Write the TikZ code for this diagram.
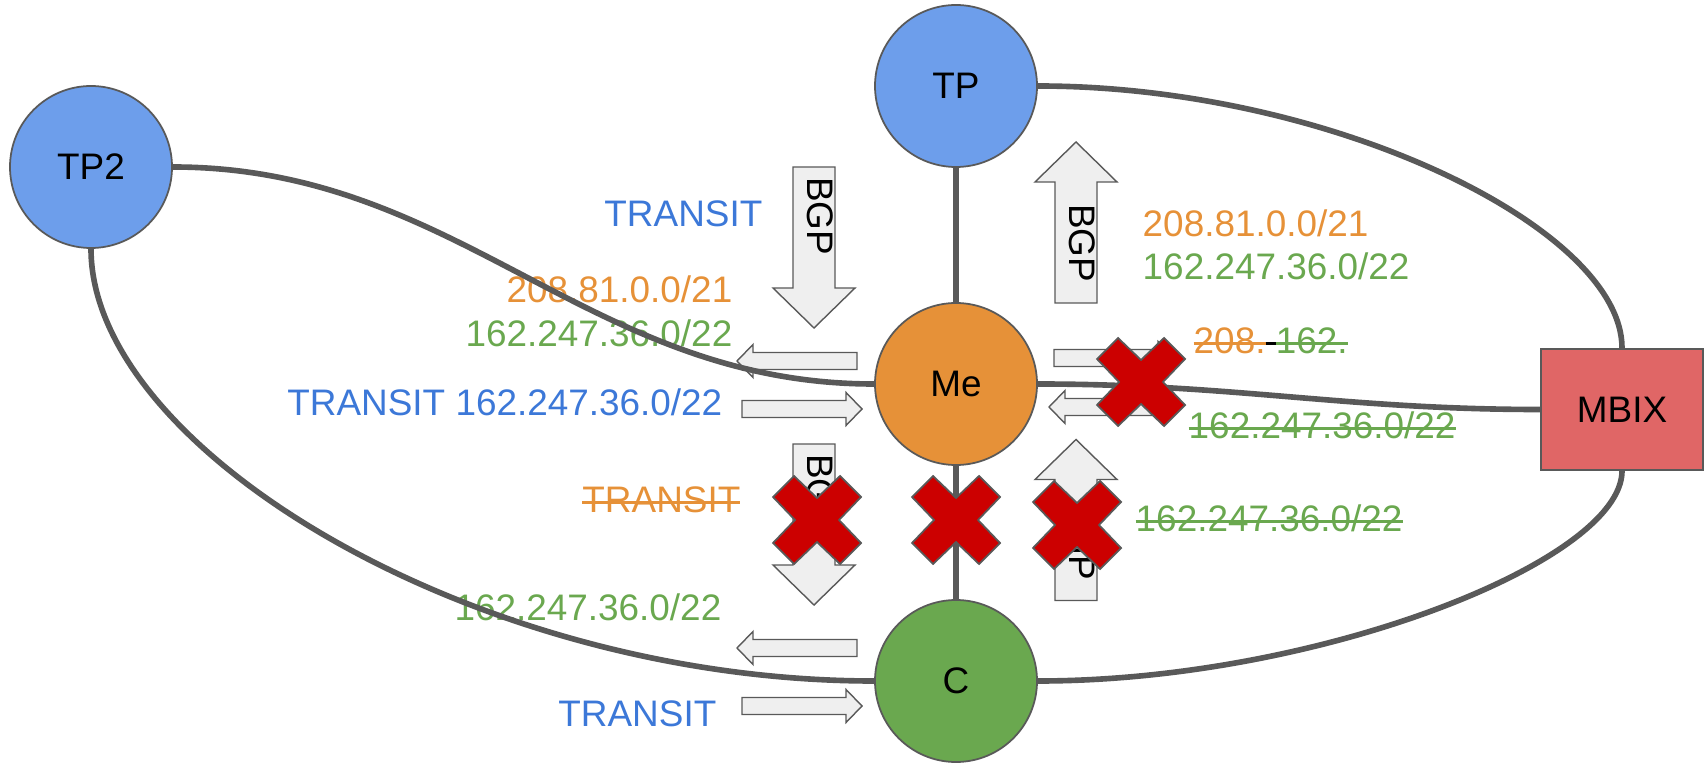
\documentclass[tikz,border=0pt]{standalone}
\usepackage{fontspec}
\setmainfont{Liberation Sans}
\definecolor{tpblue}{HTML}{6D9EEB}
\definecolor{meorange}{HTML}{E69138}
\definecolor{cgreen}{HTML}{6AA84F}
\definecolor{mbixred}{HTML}{E06666}
\definecolor{txtblue}{HTML}{3C78D8}
\definecolor{xred}{HTML}{CC0000}
\definecolor{edgegray}{HTML}{595959}
\definecolor{arrowfill}{HTML}{EFEFEF}
\newcommand\diagfont{\fontsize{10.5}{12}\selectfont}
\newlength\strkwd
\newcommand\strk[1]{\settowidth\strkwd{#1}\rlap{\rule[0.24em]{\strkwd}{0.85pt}}#1}
\tikzset{
  relay/.style={circle, draw=edgegray, line width=0.5pt, minimum size=1.62cm, inner sep=0pt, font=\diagfont},
  link/.style={draw=edgegray, line width=1.6pt},
  ann/.style={inner sep=0pt, font=\diagfont},
  blockarrow/.style={fill=arrowfill, draw=edgegray, line width=0.4pt},
  xmark/.style={fill=xred, draw=edgegray, line width=0.5pt},
  hpush/.pic={
    \path[blockarrow] (-0.60,-0.085) -- (0.44,-0.085) -- (0.44,-0.165) -- (0.60,0)
      -- (0.44,0.165) -- (0.44,0.085) -- (-0.60,0.085) -- cycle;
  },
  vpush/.pic={
    \path[blockarrow] (-0.21,0.805) -- (0.21,0.805) -- (0.21,-0.405) -- (0.41,-0.405)
      -- (0,-0.805) -- (-0.41,-0.405) -- (-0.21,-0.405) -- cycle;
  },
  nope/.pic={
    \path[xmark] (0,0.22) -- (0.23,0.44) -- (0.44,0.23) -- (0.22,0) -- (0.44,-0.23)
      -- (0.23,-0.44) -- (0,-0.22) -- (-0.23,-0.44) -- (-0.44,-0.23) -- (-0.22,0)
      -- (-0.44,0.23) -- (-0.23,0.44) -- cycle;
  },
}
\begin{document}
\begin{tikzpicture}
    \useasboundingbox (0,0) rectangle (17.04,7.62);
    % announcement arrows
    \pic[rotate=180] at (7.97,4.01) {hpush};
    \pic at (8.02,3.53) {hpush};
    \pic at (11.14,4.04) {hpush};
    \pic[rotate=180] at (11.09,3.55) {hpush};
    \pic[rotate=180] at (7.97,1.14) {hpush};
    \pic at (8.02,0.56) {hpush};
    \pic at (8.14,5.145) {vpush};
    \pic[rotate=180] at (10.76,5.395) {vpush};
    \pic at (8.14,2.375) {vpush};
    \pic[rotate=180] at (10.76,2.42) {vpush};
    \node[ann, rotate=-90] (bgptp) at (8.20,5.46) {BGP};
    \node[ann, rotate=-90] (bgpup) at (10.82,5.19) {BGP};
    \node[ann, rotate=-90] (bgpc) at (8.20,2.69) {BGP};
    \node[ann, rotate=-90] (bgpcup) at (10.82,2.21) {BGP};
    % prefixes
    \node[ann, anchor=base east, text=txtblue] (transitin) at (7.63,5.35) {TRANSIT};
    \node[ann, anchor=base east, text=meorange] (ownout) at (7.33,4.59) {208.81.0.0/21};
    \node[ann, anchor=base east, text=cgreen] (custout) at (7.33,4.15) {162.247.36.0/22};
    \node[ann, anchor=base east, text=txtblue] (tp2in) at (7.23,3.46) {TRANSIT 162.247.36.0/22};
    \node[ann, anchor=base west, text=meorange] (ownup) at (11.42,5.25) {208.81.0.0/21};
    \node[ann, anchor=base west, text=cgreen] (custup) at (11.42,4.82) {162.247.36.0/22};
    \node[ann, anchor=base west] (ixout) at (11.93,4.08)
        {{\color{meorange}\strk{208.}}\strk{\ }{\color{cgreen}\strk{162.}}};
    \node[ann, anchor=base west, text=cgreen] (ixin) at (11.88,3.23) {\strk{162.247.36.0/22}};
    \node[ann, anchor=base west, text=cgreen] (cup) at (11.35,2.30) {\strk{162.247.36.0/22}};
    \node[ann, anchor=base east, text=meorange] (cdown) at (7.41,2.49) {\strk{TRANSIT}};
    \node[ann, anchor=base east, text=cgreen] (cout) at (7.22,1.42) {162.247.36.0/22};
    \node[ann, anchor=base east, text=txtblue] (cin) at (7.17,0.36) {TRANSIT};
    % routers
    \node[relay, fill=tpblue] (tp2) at (0.91,5.95) {TP2};
    \node[relay, fill=tpblue] (tp) at (9.56,6.76) {TP};
    \node[relay, fill=meorange] (me) at (9.56,3.78) {Me};
    \node[relay, fill=cgreen] (c) at (9.56,0.81) {C};
    \node[draw=edgegray, line width=0.5pt, fill=mbixred, minimum width=1.62cm, minimum height=1.21cm,
        inner sep=0pt, font=\diagfont] (mbix) at (16.22,3.525) {MBIX};
    % links
    \draw[link] (tp) -- (me);
    \draw[link] (me) -- (c);
    \draw[link] (tp2.east) to[out=0,in=180] (me.west);
    \draw[link] (tp2.south) .. controls +(0,-2.0) and +(-4.0,0) .. (c.west);
    \draw[link] (tp.east) .. controls +(2.93,0) and +(0,1.2) .. (mbix.north);
    \draw[link] (me.east) to[out=0,in=180] (mbix.west);
    \draw[link] (c.east) .. controls +(2.8,0) and +(0,-0.9) .. (mbix.south);
    % filtered
    \pic at (8.17,2.42) {nope};
    \pic at (9.56,2.42) {nope};
    \pic at (10.77,2.37) {nope};
    \pic at (11.41,3.80) {nope};
\end{tikzpicture}
\end{document}
